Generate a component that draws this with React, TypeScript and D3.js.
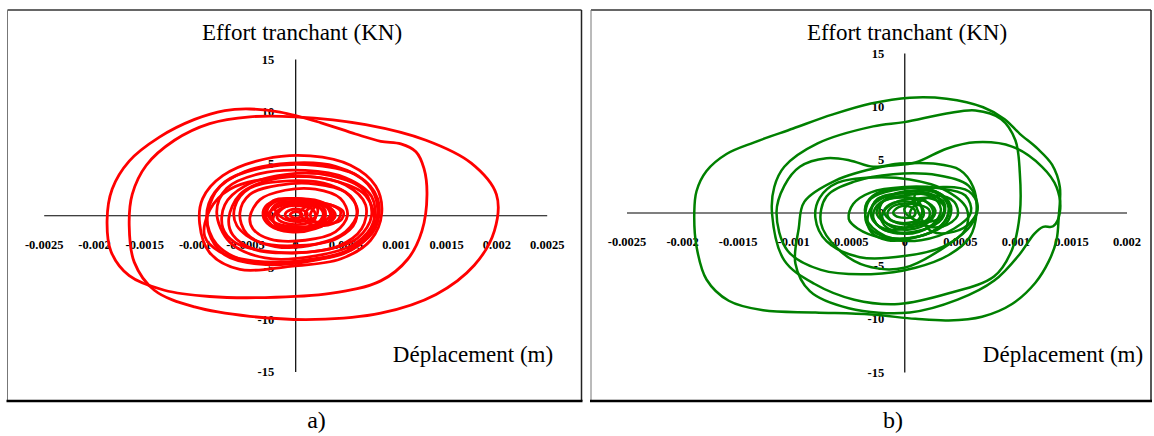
import { useEffect, useRef } from 'react';
import * as d3 from 'd3';

// loops: [displacement in mm, shear force in kN]
const redWide = [[-1.65, -1.0], [-1.62, 2.0], [-1.48, 4.8], [-1.2, 7.2], [-0.85, 8.8], [-0.45, 9.45], [0.0, 9.45], [0.7, 8.7], [1.3, 7.2], [1.75, 5.0], [2.0, 2.0], [1.98, -1.5], [1.78, -4.8], [1.4, -7.6], [0.85, -9.4], [0.2, -10.0], [-0.45, -9.7], [-1.0, -8.8], [-1.4, -7.2], [-1.6, -4.5]];
const redOuter = [[-1.87, -0.5], [-1.82, 2.5], [-1.65, 5.2], [-1.35, 7.5], [-1.0, 9.2], [-0.7, 10.05], [-0.45, 10.2], [-0.15, 9.9], [0.25, 8.9], [0.6, 7.8], [0.85, 7.1], [1.05, 6.85], [1.2, 6.1], [1.28, 4.5], [1.31, 2.0], [1.26, -1.5], [1.12, -4.2], [0.85, -6.3], [0.35, -7.5], [-0.3, -7.9], [-0.85, -7.8], [-1.3, -7.2], [-1.65, -5.8], [-1.83, -3.5]];
const redMid1 = [[-0.95, -0.8], [-0.92, 1.6], [-0.72, 3.8], [-0.3, 5.4], [0.15, 5.7], [0.55, 4.8], [0.8, 2.8], [0.86, 0.2], [0.75, -2.4], [0.45, -4.2], [-0.05, -4.9], [-0.55, -5.2], [-0.85, -3.6]];
const redMid2 = [[-0.88, -0.2], [-0.8, 2.2], [-0.5, 4.2], [-0.05, 5.0], [0.4, 4.7], [0.72, 3.0], [0.82, 0.6], [0.74, -1.9], [0.48, -3.7], [0.05, -4.4], [-0.45, -4.5], [-0.78, -2.8]];
const redMid3 = [[-0.78, 0.3], [-0.68, 2.6], [-0.35, 4.0], [0.1, 4.3], [0.5, 3.6], [0.76, 1.8], [0.78, -0.6], [0.6, -2.7], [0.2, -3.9], [-0.3, -4.1], [-0.65, -2.6]];
const redMid4 = [[-0.66, -0.3], [-0.55, 2.0], [-0.25, 3.4], [0.15, 3.7], [0.5, 2.9], [0.7, 1.0], [0.66, -1.3], [0.42, -3.0], [0.0, -3.6], [-0.4, -3.3], [-0.62, -1.9]];
const redMid5 = [[-0.55, 0.2], [-0.45, 2.0], [-0.15, 2.9], [0.2, 3.0], [0.5, 2.2], [0.62, 0.4], [0.5, -1.6], [0.2, -2.8], [-0.2, -3.0], [-0.48, -1.8]];
const redMid6 = [[-0.45, -0.2], [-0.35, 1.5], [-0.1, 2.4], [0.2, 2.5], [0.45, 1.6], [0.52, 0.0], [0.4, -1.6], [0.1, -2.4], [-0.25, -2.3], [-0.42, -1.3]];
const redMid7 = [[-0.9, -2.0], [-0.85, 0.5], [-0.65, 2.5], [-0.2, 3.6], [0.35, 3.4], [0.7, 1.9], [0.78, -0.8], [0.55, -3.2], [0.1, -4.3], [-0.4, -4.4], [-0.75, -3.5]];
const redMid8 = [[-0.72, -1.2], [-0.7, 1.0], [-0.5, 2.8], [-0.1, 3.9], [0.35, 3.8], [0.68, 2.4], [0.76, 0.0], [0.62, -2.2], [0.25, -3.4], [-0.25, -3.5], [-0.6, -2.6]];
const redMid9 = [[-0.6, 0.8], [-0.45, 2.6], [-0.05, 3.3], [0.35, 2.9], [0.58, 1.5], [0.6, -0.6], [0.42, -2.2], [0.05, -2.9], [-0.35, -2.6], [-0.58, -1.0]];
const redMid10 = [[-0.85, 1.0], [-0.7, 3.2], [-0.3, 4.6], [0.2, 4.8], [0.62, 3.8], [0.82, 1.6], [0.8, -1.2], [0.58, -3.2], [0.15, -4.4], [-0.35, -4.7], [-0.7, -3.8], [-0.86, -1.6]];
const redCore1 = [[-0.32, 0.0], [-0.28, 1.0], [-0.1, 1.5], [0.15, 1.4], [0.32, 0.7], [0.35, -0.4], [0.2, -1.3], [-0.05, -1.6], [-0.25, -1.0]];
const redCore2 = [[-0.25, 0.2], [-0.18, 1.1], [0.0, 1.3], [0.2, 1.0], [0.28, 0.1], [0.2, -0.9], [0.0, -1.2], [-0.2, -0.8]];
const redCore3 = [[-0.18, 0.0], [-0.1, 0.8], [0.05, 0.9], [0.18, 0.5], [0.2, -0.3], [0.1, -0.8], [-0.08, -0.8], [-0.17, -0.4]];
const redCore4 = [[0.05, 0.3], [0.15, 1.0], [0.32, 1.1], [0.45, 0.4], [0.42, -0.5], [0.28, -1.0], [0.12, -0.7]];
const redCore5 = [[-0.3, -0.4], [-0.2, 0.7], [0.05, 1.2], [0.3, 1.0], [0.4, 0.0], [0.3, -0.9], [0.05, -1.3], [-0.2, -1.1]];
const redCore6 = [[-0.1, 0.1], [-0.05, 0.5], [0.05, 0.55], [0.12, 0.2], [0.1, -0.3], [0.0, -0.45], [-0.08, -0.25]];
const redCore7 = [[0.15, 0.0], [0.2, 0.8], [0.3, 0.9], [0.38, 0.3], [0.35, -0.5], [0.25, -0.7], [0.17, -0.4]];
const redCore8 = [[-0.28, 0.4], [-0.2, 1.3], [0.05, 1.6], [0.28, 1.2], [0.36, 0.2], [0.25, -0.8], [0.0, -1.1], [-0.22, -0.6]];
const redCore9 = [[-0.22, -0.3], [-0.15, 0.6], [0.05, 1.0], [0.25, 0.7], [0.3, -0.2], [0.2, -1.0], [0.0, -1.3], [-0.18, -1.0]];
const redCore10 = [[0.1, 0.2], [0.18, 0.9], [0.35, 1.0], [0.48, 0.3], [0.45, -0.5], [0.3, -0.8], [0.15, -0.5]];
const redCore11 = [[-0.05, 0.0], [-0.02, 0.3], [0.04, 0.3], [0.07, 0.0], [0.03, -0.25], [-0.03, -0.2]];
const redCore12 = [[-0.2, 0.6], [-0.1, 1.2], [0.1, 1.3], [0.22, 0.7], [0.2, -0.2], [0.05, -0.6], [-0.12, -0.3]];
const redCore13 = [[-0.3, 0.2], [-0.22, 1.4], [0.0, 1.6], [0.2, 1.3], [0.3, 0.4], [0.26, -0.7], [0.05, -1.4], [-0.2, -1.2]];

const greenOuter = [[-1.89, 0.0], [-1.87, 2.0], [-1.78, 3.9], [-1.6, 5.5], [-1.35, 6.6], [-1.0, 7.9], [-0.65, 9.2], [-0.3, 10.25], [0.05, 10.8], [0.38, 10.7], [0.71, 9.9], [0.9, 8.8], [1.04, 7.4], [1.2, 6.0], [1.33, 4.5], [1.4, 2.4], [1.39, -0.4], [1.37, -2.6], [1.3, -4.6], [1.18, -6.6], [0.97, -8.6], [0.7, -9.8], [0.4, -10.15], [0.1, -10.0], [-0.3, -9.6], [-0.8, -9.4], [-1.27, -9.2], [-1.58, -8.3], [-1.78, -6.3], [-1.87, -3.2]];
const greenSecond = [[-1.19, -0.1], [-1.17, 2.4], [-1.08, 4.3], [-0.78, 6.5], [-0.28, 8.1], [0.0, 8.5], [0.38, 9.3], [0.64, 9.6], [0.87, 8.8], [1.0, 6.8], [1.04, 3.7], [1.04, -0.1], [0.97, -3.5], [0.81, -6.0], [0.4, -7.6], [-0.05, -8.6], [-0.45, -8.2], [-0.81, -6.7], [-1.08, -4.5]];
const greenLobe = [[-0.95, -1.5], [-0.9, 1.0], [-0.62, 3.0], [-0.2, 4.3], [0.1, 4.7], [0.38, 6.0], [0.64, 6.6], [0.97, 6.2], [1.24, 4.3], [1.37, 2.4], [1.4, 0.0], [1.34, -1.3], [1.25, -1.35], [1.17, -2.0], [1.04, -3.9], [0.81, -6.4], [0.48, -8.2], [0.05, -9.4], [-0.5, -9.0], [-0.85, -7.4], [-0.98, -4.8]];
const greenFive = [[-1.15, 0.0], [-1.08, 2.5], [-0.94, 4.3], [-0.7, 5.1], [-0.49, 4.9], [-0.28, 4.3], [-0.04, 4.6], [0.26, 4.6], [0.5, 4.0], [0.62, 2.4], [0.65, 0.0], [0.59, -2.3], [0.4, -4.0], [0.1, -5.2], [-0.3, -5.8], [-0.75, -5.4], [-1.05, -3.6]];
const greenMid1 = [[-0.8, -0.5], [-0.76, 1.4], [-0.6, 2.8], [-0.28, 3.3], [0.05, 3.1], [0.35, 2.2], [0.56, 0.4], [0.55, -1.6], [0.35, -3.2], [0.0, -4.1], [-0.4, -4.2], [-0.7, -2.7]];
const greenMid2 = [[-0.5, -0.6], [-0.46, 0.8], [-0.3, 1.9], [0.0, 2.4], [0.3, 2.3], [0.55, 1.6], [0.6, 0.0], [0.45, -1.5], [0.15, -2.6], [-0.2, -2.4], [-0.42, -1.5]];
const greenMid3 = [[-0.75, -1.0], [-0.7, 1.5], [-0.45, 2.9], [-0.1, 3.6], [0.3, 3.5], [0.58, 2.5], [0.66, 0.5], [0.6, -1.2], [0.4, -3.0], [0.0, -5.2], [-0.35, -5.0], [-0.6, -3.4]];
const greenMid4 = [[0.1, 1.8], [0.35, 2.4], [0.58, 2.0], [0.66, 0.6], [0.6, -0.9], [0.45, -1.8], [0.25, -1.8], [0.15, -0.5]];
const greenCore1 = [[-0.35, 0.0], [-0.3, 1.3], [-0.1, 2.1], [0.15, 2.2], [0.35, 1.4], [0.4, 0.0], [0.3, -1.5], [0.05, -2.4], [-0.2, -2.2], [-0.33, -1.2]];
const greenCore2 = [[-0.3, 0.3], [-0.2, 1.5], [0.0, 1.8], [0.25, 1.5], [0.33, 0.3], [0.25, -1.2], [0.0, -1.9], [-0.22, -1.4]];
const greenCore3 = [[-0.25, 0.0], [-0.18, 1.1], [0.02, 1.4], [0.2, 1.0], [0.26, 0.0], [0.18, -1.0], [0.0, -1.4], [-0.18, -0.9]];
const greenCore4 = [[-0.18, 0.2], [-0.1, 0.9], [0.05, 1.0], [0.16, 0.5], [0.17, -0.4], [0.08, -0.9], [-0.08, -0.9], [-0.16, -0.4]];
const greenCore5 = [[-0.1, 0.0], [-0.05, 0.5], [0.05, 0.55], [0.1, 0.1], [0.08, -0.4], [0.0, -0.5], [-0.08, -0.3]];
const greenCore6 = [[-0.33, -0.5], [-0.25, 1.0], [0.0, 1.9], [0.3, 1.9], [0.42, 0.6], [0.38, -1.0], [0.15, -2.2], [-0.15, -2.6], [-0.3, -1.8]];
const greenCore7 = [[-0.28, -0.2], [-0.22, 0.9], [0.0, 1.6], [0.22, 1.7], [0.36, 0.9], [0.34, -0.6], [0.15, -1.7], [-0.1, -1.9], [-0.25, -1.1]];
const greenCore8 = [[-0.15, 0.0], [-0.08, 0.7], [0.08, 0.8], [0.22, 0.3], [0.22, -0.5], [0.1, -1.1], [-0.06, -1.0], [-0.14, -0.5]];
const greenCore9 = [[0.0, 0.3], [0.1, 1.2], [0.25, 1.3], [0.36, 0.6], [0.34, -0.4], [0.2, -0.9], [0.06, -0.5]];
const greenCore10 = [[-0.22, 0.5], [-0.12, 1.6], [0.1, 2.0], [0.3, 1.4], [0.36, 0.2], [0.22, -1.4], [0.0, -2.0], [-0.18, -1.2]];
const greenCore11 = [[-0.35, 0.6], [-0.25, 1.8], [0.0, 2.3], [0.28, 2.0], [0.4, 0.8], [0.36, -0.9], [0.18, -2.1], [-0.12, -2.4], [-0.32, -1.0]];
const greenCore12 = [[-0.2, -0.4], [-0.15, 0.5], [0.0, 1.2], [0.18, 1.1], [0.28, 0.2], [0.22, -0.9], [0.05, -1.6], [-0.12, -1.3]];
const greenCore13 = [[-0.3, 0.0], [-0.24, 1.3], [-0.05, 1.5], [0.12, 1.1], [0.16, -0.1], [0.05, -1.3], [-0.15, -1.6], [-0.27, -0.9]];
const greenCore14 = [[0.05, -0.2], [0.12, 0.9], [0.3, 1.6], [0.45, 1.0], [0.48, -0.3], [0.35, -1.3], [0.18, -1.2]];

const redLoops = [redWide, redOuter, redMid1, redMid2, redMid3, redMid4, redMid5, redMid6, redMid7, redMid8, redMid9, redMid10,
  redCore1, redCore2, redCore3, redCore4, redCore5, redCore6, redCore7, redCore8, redCore9, redCore10, redCore11, redCore12, redCore13];
const greenLoops = [greenOuter, greenSecond, greenLobe, greenFive, greenMid1, greenMid2, greenMid3, greenMid4,
  greenCore1, greenCore2, greenCore3, greenCore4, greenCore5, greenCore6, greenCore7, greenCore8, greenCore9, greenCore10,
  greenCore11, greenCore12, greenCore13, greenCore14];

const xTicksA = [-0.0025, -0.002, -0.0015, -0.001, -0.0005, 0, 0.0005, 0.001, 0.0015, 0.002, 0.0025];
const xTicksB = [-0.0025, -0.002, -0.0015, -0.001, -0.0005, 0, 0.0005, 0.001, 0.0015, 0.002];
const yTicks = [-15, -10, -5, 0, 5, 10, 15];

const forceTitle = 'Effort tranchant (KN)';
const dispTitle = 'Déplacement (m)';

const serif = 'Liberation Serif, DejaVu Serif, Noto Serif, serif';
const fmt = d => (d === 0 ? '0' : String(+d.toFixed(4)));

const Panel = ({ frame, xDomain, xRange, yRange, xTicks, loops, color, width, yPad, titleX, labelX, caption }) => {
  const ref = useRef(null);

  useEffect(() => {
    const g = d3.select(ref.current);
    g.selectAll('*').remove();

    const x = d3.scaleLinear().domain(xDomain).range(xRange);
    const y = d3.scaleLinear().domain([-15, 15]).range(yRange);
    const [x0, x1] = frame;

    // frame
    g.append('line').attr('x1', x0).attr('x2', x1).attr('y1', 10).attr('y2', 10).attr('stroke', '#333').attr('stroke-width', 1.5);
    g.append('line').attr('x1', x0).attr('x2', x0).attr('y1', 10).attr('y2', 401).attr('stroke', '#777').attr('stroke-width', 1);
    g.append('line').attr('x1', x1).attr('x2', x1).attr('y1', 10).attr('y2', 401).attr('stroke', '#222').attr('stroke-width', 1.5);
    g.append('line').attr('x1', x0 - 1).attr('x2', x1 + 1).attr('y1', 401).attr('y2', 401).attr('stroke', '#000').attr('stroke-width', 2.5);

    const xAxis = d3.axisBottom(x).tickValues(xTicks).tickFormat(fmt).tickSize(0).tickPadding(25);
    g.append('g')
      .attr('transform', `translate(0,${y(0)})`)
      .call(xAxis)
      .call(a => a.select('.domain').attr('stroke', '#000').attr('stroke-width', 1.2));

    const yAxis = d3.axisLeft(y).tickValues(yTicks).tickFormat(fmt).tickSize(0).tickPadding(yPad);
    g.append('g')
      .attr('transform', `translate(${x(0)},0)`)
      .call(yAxis)
      .call(a => a.select('.domain').attr('stroke', '#000').attr('stroke-width', 1.2));

    g.selectAll('g').attr('font-family', null);
    g.selectAll('.tick text')
      .style('font-family', serif)
      .attr('font-size', 12.5)
      .attr('font-weight', 'bold')
      .attr('fill', '#000');

    g.append('text').attr('x', titleX).attr('y', 39.5).attr('text-anchor', 'middle')
      .style('font-family', serif).attr('font-size', 23).text(forceTitle);
    g.append('text').attr('x', labelX).attr('y', 362).attr('text-anchor', 'middle')
      .style('font-family', serif).attr('font-size', 23).text(dispTitle);
    g.append('text').attr('x', (x0 + x1) / 2 + 22).attr('y', 428).attr('text-anchor', 'middle')
      .style('font-family', serif).attr('font-size', 24).text(caption);

    const line = d3.line()
      .x(d => x(d[0] / 1000))
      .y(d => y(d[1]))
      .curve(d3.curveCatmullRomClosed.alpha(0.5));

    g.append('g')
      .selectAll('path')
      .data(loops)
      .join('path')
      .attr('d', line)
      .attr('fill', 'none')
      .attr('stroke', color)
      .attr('stroke-width', width)
      .attr('stroke-linejoin', 'round');
  }, []);

  return <g ref={ref} />;
};

export default function App() {
  return (
    <svg width={1154} height={436} style={{ position: 'absolute', left: 0, top: 0, background: '#fff' }}>
      <Panel frame={[7.5, 581.5]} xDomain={[-0.0025, 0.0025]} xRange={[43.7, 546.7]} yRange={[371.5, 59]}
        xTicks={xTicksA} loops={redLoops} color="#ff0000" width={2.8} yPad={21}
        titleX={302} labelX={473} caption="a)" />
      <Panel frame={[591, 1151]} xDomain={[-0.0025, 0.002]} xRange={[626.5, 1126.5]} yRange={[372, 53]}
        xTicks={xTicksB} loops={greenLoops} color="#008000" width={2.5} yPad={20}
        titleX={907} labelX={1063} caption="b)" />
    </svg>
  );
}
